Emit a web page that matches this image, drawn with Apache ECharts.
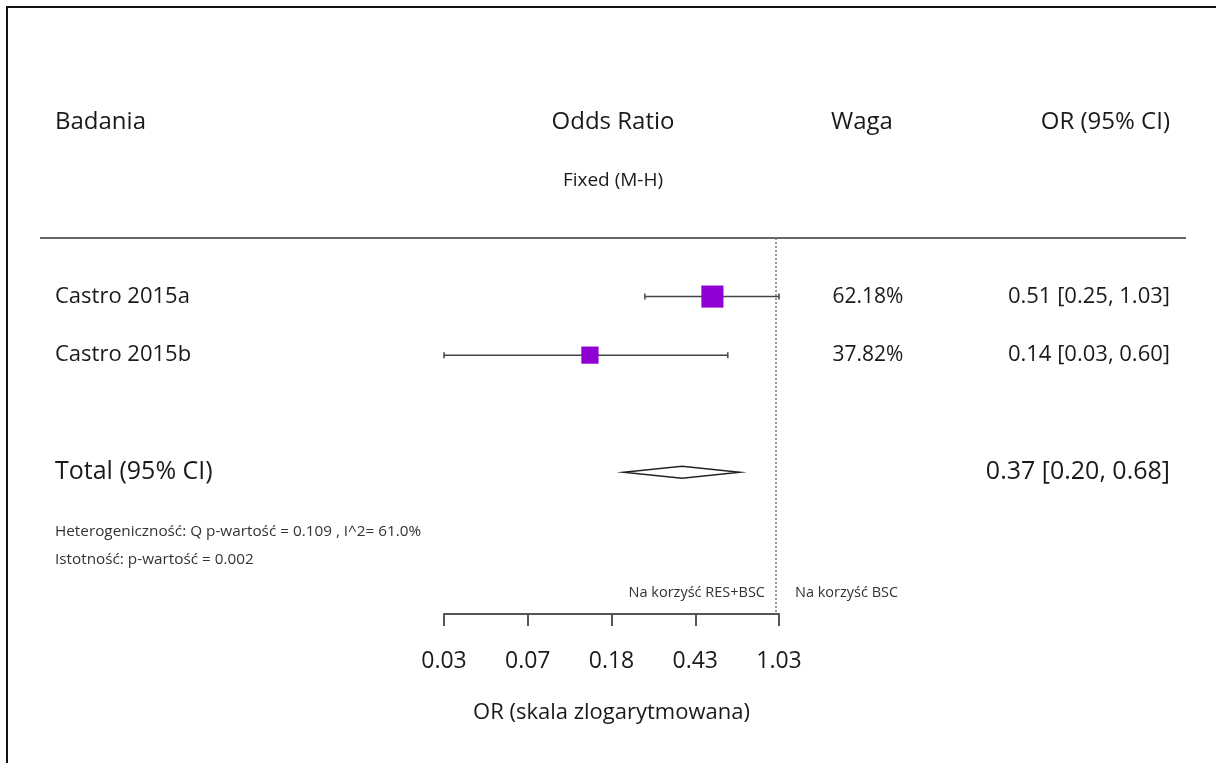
<!DOCTYPE html>
<html>
<head>
<meta charset="utf-8">
<script src="https://cdn.jsdelivr.net/npm/echarts@6/dist/echarts.min.js"></script>
<style>
html,body{margin:0;padding:0;background:#fff;}
#chart{width:1216px;height:763px;}
</style>
</head>
<body>
<div id="chart"></div>
<script>
// ---- data ----
const studies = ['Castro 2015a', 'Castro 2015b'];
const studyRows = [0, 1];
const oddsRatio = [0.51, 0.14];
const ciLow = [0.25, 0.03];
const ciHigh = [1.03, 0.60];
const weights = [62.18, 37.82];
const weightLabels = ['62.18%', '37.82%'];
const ciLabels = ['0.51 [0.25, 1.03]', '0.14 [0.03, 0.60]'];
const totalName = 'Total (95% CI)';
const totalRow = 3;
const totalOR = 0.37;
const totalLow = 0.20;
const totalHigh = 0.68;
const totalLabel = '0.37 [0.20, 0.68]';
const tickLabels = ['0.03', '0.07', '0.18', '0.43', '1.03'];
const axisMin = 0.03;
const axisMax = 1.03;
const nullValue = 1;
const headers = ['Badania', 'Odds Ratio', 'Waga', 'OR (95% CI)'];
const subHeader = 'Fixed (M-H)';
const axisTitle = 'OR (skala zlogarytmowana)';
const favourLeft = 'Na korzyść RES+BSC';
const favourRight = 'Na korzyść BSC';
const heteroText = 'Heterogeniczność: Q p-wartość = 0.109 , I^2= 61.0%';
const signifText = 'Istotność: p-wartość = 0.002';

// ---- build ----
const FONT = '"Open Sans", sans-serif';
const TXT = '#1a1a1a';
const SMALL = '#333';
const tickValues = tickLabels.map((_, i) => axisMin * Math.pow(axisMax / axisMin, i / (tickLabels.length - 1)));

const chart = echarts.init(document.getElementById('chart'), null, {renderer: 'canvas'});

const yCommon = {type: 'value', min: -1, max: 5.42, inverse: true, show: false};
const gridTop = 238, gridH = 376;

function textSeries(name, data, align, fontSize) {
  return {
    name: name, type: 'scatter', xAxisIndex: 1, yAxisIndex: 1,
    symbolSize: 0, silent: true,
    itemStyle: {opacity: 1},
    data: data,
    label: {
      show: true,
      position: align === 'left' ? 'right' : (align === 'right' ? 'left' : 'inside'),
      distance: 0,
      formatter: p => p.data[2],
      color: TXT, fontFamily: FONT, fontSize: fontSize
    }
  };
}

const option = {
  backgroundColor: '#fff',
  animation: false,
  grid: [
    {left: 444, width: 335, top: gridTop, height: gridH},
    {left: 0, right: 0, top: gridTop, height: gridH}
  ],
  xAxis: [
    {
      type: 'log', gridIndex: 0, min: axisMin, max: axisMax, logBase: 10,
      axisLine: {show: true, onZero: false, lineStyle: {color: '#555', width: 2}},
      axisTick: {show: true, customValues: tickValues, length: 12, lineStyle: {color: '#555', width: 2}},
      axisLabel: {
        show: true, customValues: tickValues, margin: 36,
        color: TXT, fontFamily: FONT, fontSize: 23,
        formatter: v => {
          let best = 0;
          tickValues.forEach((t, i) => { if (Math.abs(Math.log(t) - Math.log(v)) < Math.abs(Math.log(tickValues[best]) - Math.log(v))) best = i; });
          return tickLabels[best];
        }
      },
      splitLine: {show: false},
      name: axisTitle, nameLocation: 'middle', nameGap: 88,
      nameTextStyle: {color: TXT, fontFamily: FONT, fontSize: 22}
    },
    {type: 'value', gridIndex: 1, min: 0, max: 1216, show: false}
  ],
  yAxis: [
    Object.assign({gridIndex: 0}, yCommon),
    Object.assign({gridIndex: 1}, yCommon)
  ],
  series: [
    {
      name: 'null', type: 'line', data: [], xAxisIndex: 0, yAxisIndex: 0,
      markLine: {
        silent: true, symbol: 'none', label: {show: false},
        lineStyle: {color: '#777', type: [2, 2], width: 1.5},
        data: [{xAxis: nullValue}]
      }
    },
    {
      name: 'ci', type: 'custom', xAxisIndex: 0, yAxisIndex: 0, clip: false,
      data: studies.map((s, i) => [ciLow[i], ciHigh[i], oddsRatio[i], studyRows[i]]),
      encode: {x: [0, 1, 2], y: 3},
      renderItem: function (params, api) {
        const a = api.coord([api.value(0), api.value(3)]);
        const b = api.coord([api.value(1), api.value(3)]);
        const st = {stroke: '#444', lineWidth: 1.5};
        return {
          type: 'group', children: [
            {type: 'line', shape: {x1: a[0], y1: a[1], x2: b[0], y2: b[1]}, style: st},
            {type: 'line', shape: {x1: a[0], y1: a[1] - 3, x2: a[0], y2: a[1] + 3}, style: st},
            {type: 'line', shape: {x1: b[0], y1: b[1] - 3, x2: b[0], y2: b[1] + 3}, style: st}
          ]
        };
      }
    },
    {
      name: 'or', type: 'scatter', xAxisIndex: 0, yAxisIndex: 0, symbol: 'rect',
      data: studies.map((s, i) => ({value: [oddsRatio[i], studyRows[i]], symbolSize: 28 * Math.sqrt(weights[i] / 100)})),
      itemStyle: {color: '#9000d4', opacity: 1}, z: 5
    },
    {
      name: 'total', type: 'custom', xAxisIndex: 0, yAxisIndex: 0, clip: false,
      data: [[totalLow, totalHigh, totalOR, totalRow]],
      encode: {x: [0, 1, 2], y: 3},
      renderItem: function (params, api) {
        const l = api.coord([api.value(0), api.value(3)]);
        const h = api.coord([api.value(1), api.value(3)]);
        const m = api.coord([api.value(2), api.value(3)]);
        return {
          type: 'polygon',
          shape: {points: [[l[0], l[1]], [m[0], m[1] - 6], [h[0], h[1]], [m[0], m[1] + 6]]},
          style: {fill: '#fff', stroke: '#222', lineWidth: 1.5}
        };
      }
    },
    textSeries('names', studies.map((s, i) => [55, studyRows[i], s]), 'left', 22),
    textSeries('weights', weightLabels.map((s, i) => [868, studyRows[i], s]), 'center', 21),
    textSeries('cis', ciLabels.map((s, i) => [1170, studyRows[i], s]), 'right', 22),
    textSeries('totalName', [[55, totalRow, totalName]], 'left', 25),
    textSeries('totalCI', [[1170, totalRow, totalLabel]], 'right', 25)
  ],
  graphic: [
    {type: 'rect', shape: {x: 7, y: 7, width: 1400, height: 900}, style: {fill: 'none', stroke: '#111', lineWidth: 2}, silent: true},
    {type: 'line', shape: {x1: 40, y1: 238, x2: 1186, y2: 238}, style: {stroke: '#666', lineWidth: 2}, silent: true},
    {type: 'text', x: 55, y: 122, style: {text: headers[0], align: 'left', verticalAlign: 'middle', fill: TXT, font: '24px ' + FONT}},
    {type: 'text', x: 613, y: 122, style: {text: headers[1], align: 'center', verticalAlign: 'middle', fill: TXT, font: '24px ' + FONT}},
    {type: 'text', x: 862, y: 122, style: {text: headers[2], align: 'center', verticalAlign: 'middle', fill: TXT, font: '24px ' + FONT}},
    {type: 'text', x: 1170, y: 122, style: {text: headers[3], align: 'right', verticalAlign: 'middle', fill: TXT, font: '24px ' + FONT}},
    {type: 'text', x: 613, y: 181, style: {text: subHeader, align: 'center', verticalAlign: 'middle', fill: TXT, font: '19px ' + FONT}},
    {type: 'text', x: 55, y: 532, style: {text: heteroText, align: 'left', verticalAlign: 'middle', fill: SMALL, font: '15.3px ' + FONT}},
    {type: 'text', x: 55, y: 560, style: {text: signifText, align: 'left', verticalAlign: 'middle', fill: SMALL, font: '15.3px ' + FONT}},
    {type: 'text', x: 765, y: 593, style: {text: favourLeft, align: 'right', verticalAlign: 'middle', fill: SMALL, font: '14.5px ' + FONT}},
    {type: 'text', x: 795, y: 593, style: {text: favourRight, align: 'left', verticalAlign: 'middle', fill: SMALL, font: '14.5px ' + FONT}}
  ]
};
chart.setOption(option);
</script>
</body>
</html>
